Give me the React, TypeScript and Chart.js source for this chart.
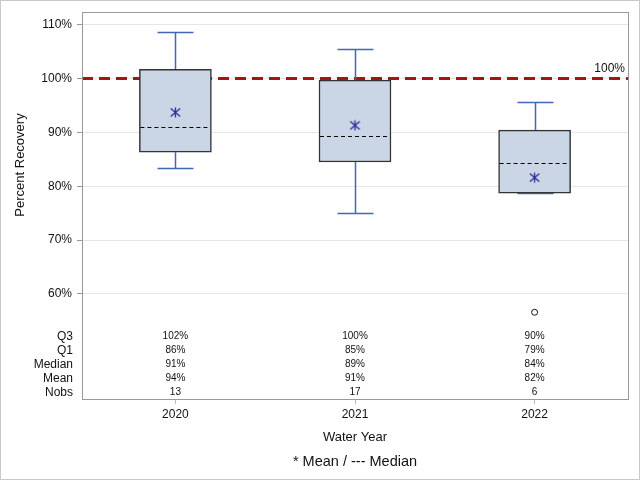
import React, { useEffect, useRef } from "react";
import { Chart, registerables } from "chart.js";

Chart.register(...registerables);

const years = ["2020", "2021", "2022"];
const whiskerLow = [83.3, 75.0, 78.7];
const q1 = [86.3, 84.5, 78.7];
const median = [91.0, 89.4, 84.4];
const mean = [93.7, 91.3, 81.6];
const q3 = [101.7, 99.7, 90.4];
const whiskerHigh = [108.6, 105.5, 95.6];
const outliers = [{ x: 2, y: 56.6 }];
const q3Labels = ["102%", "100%", "90%"];
const q1Labels = ["86%", "85%", "79%"];
const medianLabels = ["91%", "89%", "84%"];
const meanLabels = ["94%", "91%", "82%"];
const nobs = ["13", "17", "6"];
const yTicks = [60, 70, 80, 90, 100, 110];
const referenceValue = 100;

const FONT = "'Liberation Sans', Arial, sans-serif";

function makeAsterisk(): HTMLCanvasElement {
  const c = document.createElement("canvas");
  c.width = 13;
  c.height = 13;
  const g = c.getContext("2d")!;
  g.strokeStyle = "#2a2f9c";
  g.lineWidth = 1.3;
  g.beginPath();
  g.moveTo(6.5, 1.5);
  g.lineTo(6.5, 11.5);
  g.moveTo(1.8, 2.6);
  g.lineTo(11.2, 10.4);
  g.moveTo(11.2, 2.6);
  g.lineTo(1.8, 10.4);
  g.stroke();
  return c;
}

const boxPlugin = {
  id: "boxExtras",
  beforeDatasetsDraw(chart: any) {
    const { ctx, chartArea } = chart;
    const xs = chart.scales.x;
    const ys = chart.scales.y;
    ctx.save();
    const yr = ys.getPixelForValue(referenceValue);
    ctx.strokeStyle = "#a31515";
    ctx.lineWidth = 3;
    ctx.setLineDash([11, 6]);
    ctx.beginPath();
    ctx.moveTo(chartArea.left, yr);
    ctx.lineTo(chartArea.right, yr);
    ctx.stroke();
    ctx.setLineDash([]);
    ctx.strokeStyle = "#4267b8";
    ctx.lineWidth = 1.5;
    for (let i = 0; i < years.length; i++) {
      const x = Math.round(xs.getPixelForValue(i)) + 0.5;
      const yh = Math.round(ys.getPixelForValue(whiskerHigh[i])) + 0.5;
      const yl = Math.round(ys.getPixelForValue(whiskerLow[i])) + 0.5;
      const y3 = ys.getPixelForValue(q3[i]);
      const y1 = ys.getPixelForValue(q1[i]);
      ctx.beginPath();
      ctx.moveTo(x, yh);
      ctx.lineTo(x, y3);
      ctx.moveTo(x, y1);
      ctx.lineTo(x, yl);
      ctx.moveTo(x - 18, yh);
      ctx.lineTo(x + 18, yh);
      ctx.moveTo(x - 18, yl);
      ctx.lineTo(x + 18, yl);
      ctx.stroke();
    }
    ctx.restore();
  },
  afterDatasetsDraw(chart: any) {
    const { ctx } = chart;
    const xs = chart.scales.x;
    const ys = chart.scales.y;
    ctx.save();
    ctx.strokeStyle = "#000";
    ctx.lineWidth = 1.2;
    ctx.setLineDash([4, 3]);
    for (let i = 0; i < years.length; i++) {
      const x = xs.getPixelForValue(i);
      const y = Math.round(ys.getPixelForValue(median[i])) + 0.5;
      ctx.beginPath();
      ctx.moveTo(x - 35, y);
      ctx.lineTo(x + 35, y);
      ctx.stroke();
    }
    ctx.restore();
  },
  afterDraw(chart: any) {
    const { ctx, chartArea, width, height } = chart;
    const xs = chart.scales.x;
    const ys = chart.scales.y;
    ctx.save();
    ctx.strokeStyle = "#999";
    ctx.lineWidth = 1;
    ctx.strokeRect(
      Math.round(chartArea.left) + 0.5,
      Math.round(chartArea.top) + 0.5,
      Math.round(chartArea.right - chartArea.left),
      Math.round(chartArea.bottom - chartArea.top)
    );
    ctx.strokeStyle = "#c8c8c8";
    ctx.strokeRect(0.5, 0.5, width - 1, height - 1);
    ctx.fillStyle = "#111";
    ctx.font = `12px ${FONT}`;
    ctx.textAlign = "right";
    ctx.textBaseline = "middle";
    ctx.fillText("100%", chartArea.right - 3, ys.getPixelForValue(referenceValue) - 10);
    const rows = [
      { label: "Q3", vals: q3Labels },
      { label: "Q1", vals: q1Labels },
      { label: "Median", vals: medianLabels },
      { label: "Mean", vals: meanLabels },
      { label: "Nobs", vals: nobs },
    ];
    const rowY = (r: number) => chartArea.bottom - 6.5 - (rows.length - 1 - r) * 14;
    rows.forEach((row, r) => {
      const y = rowY(r);
      ctx.font = `12px ${FONT}`;
      ctx.textAlign = "right";
      ctx.fillText(row.label, chartArea.left - 9, y);
      ctx.font = `10px ${FONT}`;
      ctx.textAlign = "center";
      row.vals.forEach((v, i) => {
        ctx.fillText(v, xs.getPixelForValue(i), y);
      });
    });
    ctx.font = `13px ${FONT}`;
    ctx.textAlign = "center";
    ctx.fillText("Water Year", (chartArea.left + chartArea.right) / 2, 437);
    ctx.font = `14.5px ${FONT}`;
    ctx.fillText("* Mean / --- Median", (chartArea.left + chartArea.right) / 2, 462);
    ctx.save();
    ctx.translate(20, 165);
    ctx.rotate(-Math.PI / 2);
    ctx.font = `13px ${FONT}`;
    ctx.fillText("Percent Recovery", 0, 0);
    ctx.restore();
    ctx.restore();
  },
};

export default function App() {
  const ref = useRef<HTMLCanvasElement | null>(null);
  useEffect(() => {
    document.body.style.margin = "0";
    const canvas = ref.current!;
    const chart = new Chart(canvas, {
      type: "bar",
      data: {
        datasets: [
          {
            type: "scatter",
            data: mean.map((m, i) => ({ x: i, y: m })),
            pointStyle: makeAsterisk() as any,
            pointRadius: 6,
            order: 0,
          } as any,
          {
            type: "scatter",
            data: outliers,
            pointStyle: "circle",
            pointRadius: 3,
            backgroundColor: "#fff",
            borderColor: "#111",
            borderWidth: 1,
            order: 0,
          } as any,
          {
            type: "bar",
            data: q1.map((v, i) => ({ x: i, y: [v, q3[i]] })),
            backgroundColor: "#cad5e5",
            borderColor: "#333",
            borderWidth: 1.5,
            borderSkipped: false,
            barThickness: 72,
            order: 1,
          } as any,
        ],
      },
      options: {
        responsive: false,
        animation: false,
        devicePixelRatio: 1,
        layout: { padding: { top: 11, right: 12, left: 0, bottom: 0 } },
        plugins: { legend: { display: false }, tooltip: { enabled: false } },
        scales: {
          x: {
            type: "linear",
            min: -0.52,
            max: 2.52,
            offset: false,
            afterBuildTicks: (s: any) => {
              s.ticks = years.map((_, i) => ({ value: i }));
            },
            afterFit: (s: any) => {
              s.height = 81;
            },
            ticks: {
              callback: (v: any) => years[v as number] ?? "",
              font: { family: FONT, size: 12 },
              color: "#111",
              padding: 3,
              maxRotation: 0,
            },
            grid: {
              offset: false,
              drawOnChartArea: false,
              drawTicks: true,
              tickLength: 5,
              tickColor: "#bbb",
            },
            border: { display: false },
          },
          y: {
            type: "linear",
            min: 40.5,
            max: 112.3,
            afterBuildTicks: (s: any) => {
              s.ticks = yTicks.map((v) => ({ value: v }));
            },
            afterFit: (s: any) => {
              s.width = 82;
            },
            ticks: {
              callback: (v: any) => `${v}%`,
              font: { family: FONT, size: 12 },
              color: "#111",
              padding: 5,
            },
            grid: {
              color: "#e6e6e6",
              tickColor: "#999",
              tickLength: 5,
            },
            border: { display: false },
          },
        },
      } as any,
      plugins: [boxPlugin],
    });
    return () => chart.destroy();
  }, []);
  return (
    <canvas ref={ref} width={640} height={480} style={{ display: "block", width: 640, height: 480 }} />
  );
}
